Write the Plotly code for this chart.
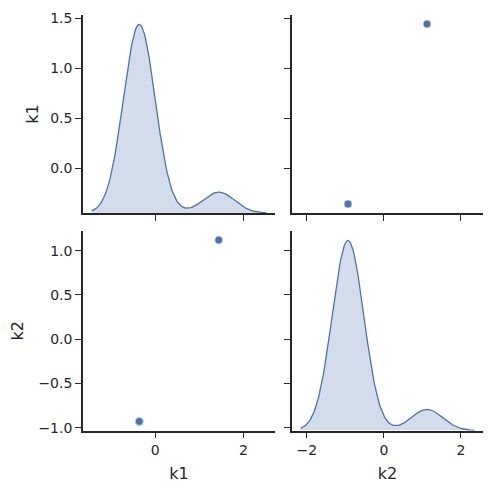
import numpy as np
import plotly.graph_objects as go

# data: 10 observations, two variables (many low values overlap)
k1 = [-0.36, -0.36, -0.36, -0.36, -0.36, -0.36, -0.36, -0.36, -0.36, 1.44]
k2 = [-0.93, -0.93, -0.93, -0.93, -0.93, -0.93, -0.93, -0.93, -0.93, 1.12]

BLUE = '#4c72b0'
FILL = 'rgba(76,114,176,0.25)'
INK = '#262626'
FONT = 'DejaVu Sans'


def kde(values, cut=3, gridsize=200):
    """Gaussian KDE with Scott's bandwidth, like seaborn's kdeplot"""
    v = np.asarray(values, dtype=float)
    n = len(v)
    bw = v.std(ddof=1) * n ** (-1 / 5)
    grid = np.linspace(v.min() - cut * bw, v.max() + cut * bw, gridsize)
    dens = np.exp(-0.5 * ((grid[:, None] - v[None, :]) / bw) ** 2).sum(axis=1)
    dens /= n * bw * np.sqrt(2 * np.pi)
    return grid, dens


def padded(lo, hi, m=0.05):
    span = hi - lo
    return [lo - m * span, hi + m * span]


g1, d1 = kde(k1)
g2, d2 = kde(k2)

x_col0 = padded(g1.min(), g1.max())
x_col1 = padded(g2.min(), g2.max())
y_row0 = padded(min(k1), max(k1))
y_row1 = padded(min(k2), max(k2))

fig = go.Figure()

# k2 vs k1 (top right)
fig.add_trace(go.Scatter(
    x=k2, y=k1, mode='markers', xaxis='x2', yaxis='y2',
    marker=dict(color=BLUE, size=8, line=dict(color='white', width=0.6)),
    showlegend=False
))
# k1 vs k2 (bottom left)
fig.add_trace(go.Scatter(
    x=k1, y=k2, mode='markers', xaxis='x3', yaxis='y3',
    marker=dict(color=BLUE, size=8, line=dict(color='white', width=0.6)),
    showlegend=False
))
# diagonal densities live on their own hidden axes pairs
fig.add_trace(go.Scatter(
    x=g1, y=d1, mode='lines', fill='tozeroy', fillcolor=FILL,
    line=dict(color=BLUE, width=1.3), xaxis='x5', yaxis='y5',
    showlegend=False, hoverinfo='skip'
))
fig.add_trace(go.Scatter(
    x=g2, y=d2, mode='lines', fill='tozeroy', fillcolor=FILL,
    line=dict(color=BLUE, width=1.3), xaxis='x6', yaxis='y6',
    showlegend=False, hoverinfo='skip'
))
# invisible anchors so the labelled diagonal axes get drawn
fig.add_trace(go.Scatter(x=[None], y=[None], xaxis='x', yaxis='y',
                         showlegend=False, hoverinfo='skip'))
fig.add_trace(go.Scatter(x=[None], y=[None], xaxis='x4', yaxis='y4',
                         showlegend=False, hoverinfo='skip'))

col0 = [83 / 493, 275 / 493]
col1 = [292 / 493, 483 / 493]
row0 = [1 - 213 / 493, 1 - 15 / 493]
row1 = [1 - 430.5 / 493, 1 - 231 / 493]

axis_style = dict(
    showline=True, linecolor=INK, linewidth=1.6,
    ticks='outside', ticklen=6, tickwidth=1.4, tickcolor=INK,
    showgrid=False, zeroline=False, automargin=False,
    tickfont=dict(family=FONT, size=14, color=INK),
)


def title(text, standoff):
    return dict(text=text, standoff=standoff,
                font=dict(family=FONT, size=16, color=INK))


hidden = dict(visible=False, showgrid=False, zeroline=False, showline=False,
              automargin=False)

fig.update_layout(
    width=493, height=493,
    margin=dict(l=0, r=0, t=0, b=0, autoexpand=False),
    paper_bgcolor='white', plot_bgcolor='rgba(0,0,0,0)',
    font=dict(family=FONT, color=INK),
    xaxis=dict(axis_style, domain=col0, range=x_col0, anchor='y',
               tickvals=[0, 2], showticklabels=False),
    yaxis=dict(axis_style, domain=row0, range=y_row0, anchor='x',
               tickvals=[0.0, 0.5, 1.0, 1.5], tickformat='.1f',
               title=title('k1', 8)),
    xaxis2=dict(axis_style, domain=col1, range=x_col1, anchor='y2',
                tickvals=[-2, 0, 2], showticklabels=False),
    yaxis2=dict(axis_style, domain=row0, range=y_row0, anchor='x2',
                tickvals=[0.0, 0.5, 1.0, 1.5], showticklabels=False),
    xaxis3=dict(axis_style, domain=col0, range=x_col0, anchor='y3',
                tickvals=[0, 2], title=title('k1', 11)),
    yaxis3=dict(axis_style, domain=row1, range=y_row1, anchor='x3',
                tickvals=[-1.0, -0.5, 0.0, 0.5, 1.0], tickformat='.1f',
                title=title('k2', 11)),
    xaxis4=dict(axis_style, domain=col1, range=x_col1, anchor='y4',
                tickvals=[-2, 0, 2], title=title('k2', 11)),
    yaxis4=dict(axis_style, domain=row1, range=y_row1, anchor='x4',
                tickvals=[-1.0, -0.5, 0.0, 0.5, 1.0], showticklabels=False),
    xaxis5=dict(hidden, domain=col0, range=x_col0, anchor='y5'),
    yaxis5=dict(hidden, domain=row0, anchor='x5', range=[0, d1.max() * 1.05]),
    xaxis6=dict(hidden, domain=col1, range=x_col1, anchor='y6'),
    yaxis6=dict(hidden, domain=row1, anchor='x6', range=[0, d2.max() * 1.05]),
)

# drop the browser's default body margin so the figure sits at the page origin
fig.write_html("out.html", config={'displayModeBar': False},
               post_script="document.body.style.margin = '0';")
